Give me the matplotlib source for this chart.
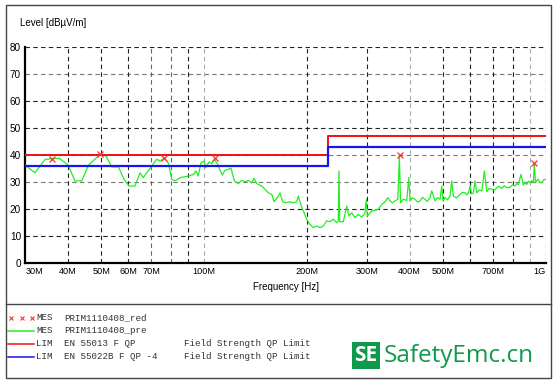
import matplotlib.pyplot as plt
from matplotlib.lines import Line2D
from matplotlib.patches import Rectangle

# pre-scan trace, frequency in MHz, level in dBuV/m
freq_mhz = [30.0, 32.0, 34.3, 37.7, 40.1, 41.9, 43.9, 45.9, 49.6, 51.7,
            53.7, 56.2, 58.3, 60.4, 62.8, 65.0, 66.4, 70.3, 72.7, 74.4,
            76.5, 78.6, 80.5, 82.3, 85.1, 90.0, 93.1, 94.8, 96.2, 98.0,
            100.2, 101.2, 103.4, 105.4, 107.2, 109.7, 111.4, 113.2, 115.2, 117.8,
            120.0, 122.7, 126.0, 128.9, 131.9, 134.8, 137.9, 140.1, 142.7, 147.5,
            150.9, 154.3, 157.9, 160.3, 163.9, 166.9, 170.0, 173.8, 177.7, 182.6,
            186.8, 188.8, 191.9, 195.3, 199.8, 204.3, 208.9, 213.7, 218.6, 223.5,
            228.7, 233.8, 239.1, 244.6, 247.2, 248.4, 249.6, 255.7, 261.6, 265.7,
            270.6, 276.7, 282.9, 289.5, 296.0, 298.6, 300.6, 309.6, 316.6, 323.7,
            331.2, 338.8, 345.0, 350.4, 355.8, 362.4, 369.1, 373.1, 376.0, 383.2,
            392.1, 397.4, 400.9, 407.0, 414.6, 421.0, 428.8, 436.0, 443.5, 450.0,
            458.7, 464.0, 474.4, 482.0, 490.7, 496.3, 500.6, 507.5, 516.0, 525.0,
            531.0, 536.8, 548.0, 561.6, 570.0, 580.8, 587.0, 593.9, 600.7, 607.0,
            614.2, 621.3, 628.5, 638.0, 650.1, 661.6, 672.4, 683.0, 695.1, 707.0,
            719.0, 731.0, 743.7, 756.0, 769.0, 786.3, 800.0, 813.3, 822.0, 831.6,
            846.9, 860.1, 870.0, 880.1, 890.0, 899.8, 910.0, 920.1, 926.2, 933.6,
            942.0, 951.3, 962.0, 973.4, 986.0, 1000.0]
level = [36.2, 33.4, 38.4, 38.8, 36.2, 30.4, 30.4, 36.2, 40.2, 39.6,
         35.6, 35.6, 31.0, 28.5, 28.5, 33.4, 31.6, 35.9, 38.4, 37.8,
         38.8, 37.1, 31.0, 30.4, 31.6, 32.2, 32.8, 34.1, 32.2, 37.1,
         37.8, 35.3, 37.4, 36.8, 38.4, 36.5, 34.3, 32.6, 34.3, 34.7,
         35.1, 30.4, 29.4, 30.6, 30.1, 30.6, 29.7, 31.4, 29.4, 28.5,
         27.3, 26.0, 25.4, 22.7, 24.2, 26.0, 22.7, 22.3, 22.7, 22.3,
         22.7, 24.8, 21.7, 19.3, 16.2, 14.3, 13.1, 13.7, 13.1, 13.7,
         15.6, 15.3, 16.2, 14.9, 15.6, 34.1, 15.3, 15.3, 21.1, 17.4,
         18.6, 16.8, 18.0, 17.0, 18.6, 23.6, 17.4, 19.3, 19.5, 19.9,
         21.7, 22.7, 24.2, 23.0, 22.3, 23.0, 23.6, 39.6, 22.3, 23.6,
         23.2, 31.6, 23.0, 24.1, 23.6, 22.6, 23.0, 24.3, 23.6, 22.8,
         24.2, 26.7, 23.0, 24.2, 23.6, 28.5, 23.0, 24.2, 23.4, 24.8,
         30.4, 24.8, 24.1, 25.4, 26.2, 26.0, 25.2, 26.0, 28.5, 25.6,
         26.0, 30.4, 26.0, 27.0, 26.7, 34.1, 26.4, 27.6, 27.3, 26.8,
         27.9, 28.4, 27.6, 28.6, 27.9, 28.1, 29.0, 28.5, 29.4, 29.1,
         32.8, 28.9, 29.8, 29.1, 30.3, 29.7, 30.5, 29.7, 36.8, 29.7,
         30.6, 31.0, 29.9, 29.7, 30.8, 31.0]

# final QP measurement points
mes_freq = [35.8, 49.5, 76.5, 107.5, 373.5, 926.0]
mes_level = [38.6, 40.4, 38.9, 39.0, 40.0, 36.9]

# limit lines
lim_freq = [30, 230, 230, 1000]
lim_en55013 = [40, 40, 47, 47]
lim_en55022b = [36, 36, 43, 43]

xticks = [30, 40, 50, 60, 70, 100, 200, 300, 400, 500, 700, 1000]
xtick_labels = ["30M", "40M", "50M", "60M", "70M", "100M", "200M", "300M",
                "400M", "500M", "700M", "1G"]
yticks = [0, 10, 20, 30, 40, 50, 60, 70, 80]

legend_tags = ["MES", "MES", "LIM", "LIM"]
legend_names = ["PRIM1110408_red", "PRIM1110408_pre", "EN 55013 F QP", "EN 55022B F QP -4"]
legend_desc = ["", "", "Field Strength QP Limit", "Field Strength QP Limit"]

W, H = 555, 385
fx = lambda px: px / W
fy = lambda py: 1 - py / H

sans = ["Liberation Sans", "DejaVu Sans"]
mono = ["Liberation Mono", "DejaVu Sans Mono"]

fig = plt.figure(figsize=(W / 100, H / 100), dpi=100)
ax = fig.add_axes([fx(25.3), fy(263), fx(545.7) - fx(25.3), fy(47) - fy(263)])

# dashed grid, some lines lighter like the analyser print
hgrid_col = {10: "#222222", 20: "#222222", 30: "#777777", 40: "#777777",
             50: "#222222", 60: "#222222", 70: "#777777", 80: "#222222"}
for v, c in hgrid_col.items():
    ax.axhline(v, color=c, lw=0.8, ls=(0, (4, 3)), zorder=1)
vgrid = [40, 50, 60, 70, 80, 90, 100, 200, 300, 400, 500, 600, 700, 800, 900, 1000]
light = {70: "#666666", 80: "#666666", 100: "#aaaaaa", 400: "#aaaaaa", 900: "#aaaaaa"}
for v in vgrid:
    ax.axvline(v, color=light.get(v, "#222222"), lw=0.8, ls=(0, (4, 3)), zorder=1)

ax.plot(freq_mhz, level, color="#22ee22", lw=0.9, zorder=3)
ax.plot(lim_freq, lim_en55013, color="#ee1111", lw=1.4, zorder=4)
ax.plot(lim_freq, lim_en55022b, color="#1515ee", lw=1.6, zorder=4)
ax.plot(mes_freq, mes_level, ls="none", marker="x", ms=4, mew=0.9,
        color="#ff3030", zorder=5)

ax.set_xscale("log")
ax.set_xlim(30, 1000)
ax.set_ylim(0, 80)
ax.set_xticks(xticks)
ax.set_xticklabels(xtick_labels, family=sans, fontsize=6.6)
ax.minorticks_off()
ax.set_yticks(yticks)
ax.set_yticklabels([str(v) for v in yticks], family=sans, fontsize=7.2)
ax.tick_params(length=0, pad=3)
ax.get_xticklabels()[0].set_ha("left")
ax.get_xticklabels()[-1].set_ha("right")
for s in ["top", "right"]:
    ax.spines[s].set_visible(False)
for s in ["left", "bottom"]:
    ax.spines[s].set_linewidth(1.6)
ax.set_xlabel("Frequency [Hz]", family=sans, fontsize=7, labelpad=4)
fig.text(fx(20), fy(23), "Level [dB\u00b5V/m]", family=sans, fontsize=7, va="center")

# outer frame and divider
fig.add_artist(Rectangle((fx(5.5), fy(377.5)), fx(550.5) - fx(5.5), fy(5.5) - fy(377.5),
                         fill=False, ec="#444444", lw=1.0))
fig.add_artist(Line2D([fx(5.5), fx(550.5)], [fy(304), fy(304)], color="#444444", lw=1.0))

# legend block
row_y = [318, 330.5, 343.5, 356.5]
sample_col = [None, "#22ee22", "#ee1111", "#1515ee"]
for i in range(4):
    yy = fy(row_y[i])
    if i == 0:
        fig.add_artist(Line2D([fx(11), fx(21.7), fx(32.3)], [yy, yy, yy], ls="none",
                              marker="x", ms=3.5, mew=0.8, color="#ff3030"))
    else:
        fig.add_artist(Line2D([fx(8), fx(34)], [yy, yy], color=sample_col[i], lw=1.1))
    fig.text(fx(36), yy, legend_tags[i], family=mono, fontsize=6.6, color="#333333", va="center")
    fig.text(fx(64.5), yy, legend_names[i], family=mono, fontsize=6.6, color="#333333", va="center")
    fig.text(fx(184), yy, legend_desc[i], family=mono, fontsize=6.6, color="#333333", va="center")

# logo
fig.add_artist(Rectangle((fx(352), fy(368.5)), fx(380) - fx(352), fy(341.5) - fy(368.5),
                         color="#0e9a4c", lw=0))
fig.text(fx(366), fy(355.5), "SE", color="white", fontsize=15, fontweight="bold",
         family="Open Sans", ha="center", va="center")
fig.text(fx(384), fy(355.5), "SafetyEmc.cn", color="#0e9a4c", fontsize=17.5,
         family="Open Sans", va="center")

fig.savefig("out.png", dpi=100)
